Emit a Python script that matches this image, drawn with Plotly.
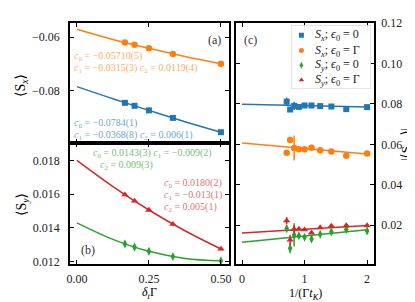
import plotly.graph_objects as go

W, H = 415, 302
def px(x): return x / W
def py(y): return 1 - y / H

BLUE, ORANGE, GREEN, RED = "#1f77b4", "#ff7f0e", "#2ca02c", "#d62728"
BLUE_T, ORANGE_T, GREEN_T, RED_T = ("rgba(31,119,180,0.7)", "rgba(255,127,14,0.7)",
                                    "rgba(44,160,44,0.7)", "rgba(214,39,40,0.7)")
FONT = "Liberation Serif, DejaVu Serif, serif"

# ---- panels (a) and (b): vs delta_t * Gamma ----
dt = [0.1667, 0.2, 0.25, 0.3333, 0.5]
sx_e0 = [-0.0844, -0.0855, -0.0872, -0.0900, -0.0953]
sx_eG = [-0.0620, -0.0629, -0.0642, -0.0663, -0.0699]
sy_e0 = [0.01305, 0.01286, 0.01261, 0.01230, 0.01205]
sy_eG = [0.01597, 0.01560, 0.01506, 0.01422, 0.01275]
sy_e0_err = [0.0001, 0.0001, 0.0001, 0.0001, 0.0001]
sy_eG_err = [0.00008, 0.00008, 0.00008, 0.00008, 0.00008]

fit_dt = [0.0, 0.125, 0.25, 0.375, 0.5]
sx_e0_fit = [-0.0784, -0.0829, -0.0872, -0.0914, -0.0953]
sx_eG_fit = [-0.0571, -0.0609, -0.0642, -0.0672, -0.0699]
sy_e0_fit = [0.0143, 0.01332, 0.01261, 0.01219, 0.01205]
sy_eG_fit = [0.0180, 0.01645, 0.01506, 0.01383, 0.01275]

# ---- panel (c): vs 1/(Gamma t_K) ----
inv_tk = [0.7143, 0.7692, 0.8333, 0.9091, 1.0, 1.1111, 1.25, 1.4286, 1.6667, 2.0]
c_sx_e0 = [0.0811, 0.0772, 0.0790, 0.0785, 0.0792, 0.0792, 0.0789, 0.0787, 0.0774, 0.0784]
c_sx_e0_err = [0.0020, 0.0004, 0.0020, 0.0004, 0.0003, 0.0003, 0.0003, 0.0003, 0.0003, 0.0003]
c_sx_eG = [0.0558, 0.0621, 0.0582, 0.0575, 0.0575, 0.0583, 0.0571, 0.0565, 0.0543, 0.0554]
c_sx_eG_err = [0.0004, 0.0016, 0.0062, 0.0004, 0.0003, 0.0003, 0.0003, 0.0003, 0.0003, 0.0003]
c_sy_e0 = [0.0183, 0.0086, 0.0152, 0.0148, 0.0140, 0.0132, 0.0155, 0.0167, 0.0179, 0.0171]
c_sy_e0_err = [0.0008, 0.0025, 0.0057, 0.0006, 0.0005, 0.0006, 0.0005, 0.0005, 0.0005, 0.0005]
c_sy_eG = [0.0222, 0.0127, 0.0181, 0.0181, 0.0178, 0.0162, 0.0188, 0.0196, 0.0198, 0.0198]
c_sy_eG_err = [0.0018, 0.0025, 0.0020, 0.0004, 0.0004, 0.0005, 0.0004, 0.0004, 0.0004, 0.0004]

fit_tk = [0.0, 2.0]
c_sx_e0_fit = [0.0798, 0.0785]
c_sx_eG_fit = [0.0606, 0.0552]
c_sy_e0_fit = [0.0115, 0.0177]
c_sy_eG_fit = [0.0161, 0.0199]

# ---- legend entries ----
legend_labels = ["<i>S</i><sub><i>x</i></sub>; <i>ϵ</i><sub>0</sub> = 0",
                 "<i>S</i><sub><i>x</i></sub>; <i>ϵ</i><sub>0</sub> = Γ",
                 "<i>S</i><sub><i>y</i></sub>; <i>ϵ</i><sub>0</sub> = 0",
                 "<i>S</i><sub><i>y</i></sub>; <i>ϵ</i><sub>0</sub> = Γ"]
legend_colors = [BLUE, ORANGE, GREEN, RED]
legend_symbols = ["square", "circle", "diamond-tall", "triangle-up"]
legend_rows = [0.84, 0.60, 0.37, 0.14]

fig = go.Figure()

def line(x, y, color, xa, ya, spline=True):
    fig.add_trace(go.Scatter(x=x, y=y, mode="lines", xaxis=xa, yaxis=ya,
                             line=dict(color=color, width=1.5, shape="spline" if spline else "linear"),
                             showlegend=False, hoverinfo="skip"))

def pts(x, y, color, symbol, size, xa, ya, err=None):
    fig.add_trace(go.Scatter(
        x=x, y=y, mode="markers", xaxis=xa, yaxis=ya, showlegend=False,
        marker=dict(color=color, symbol=symbol, size=size, line=dict(width=0)),
        error_y=dict(type="data", array=err, visible=err is not None, width=0,
                     thickness=1.5, color=color)))

# panel (a)
line(fit_dt, sx_eG_fit, ORANGE, "x", "y")
line(fit_dt, sx_e0_fit, BLUE, "x", "y")
pts(dt, sx_eG, ORANGE, "circle", 6.5, "x", "y")
pts(dt, sx_e0, BLUE, "square", 6, "x", "y")
# panel (b)
line(fit_dt, sy_eG_fit, RED, "x2", "y2")
line(fit_dt, sy_e0_fit, GREEN, "x2", "y2")
pts(dt, sy_eG, RED, "triangle-up", 6.5, "x2", "y2", sy_eG_err)
pts(dt, sy_e0, GREEN, "diamond-tall", 6.5, "x2", "y2", sy_e0_err)
# panel (c)
line(fit_tk, c_sx_e0_fit, BLUE, "x3", "y3", False)
line(fit_tk, c_sx_eG_fit, ORANGE, "x3", "y3", False)
line(fit_tk, c_sy_eG_fit, RED, "x3", "y3", False)
line(fit_tk, c_sy_e0_fit, GREEN, "x3", "y3", False)
pts(inv_tk, c_sx_e0, BLUE, "square", 6, "x3", "y3", c_sx_e0_err)
pts(inv_tk, c_sx_eG, ORANGE, "circle", 6.5, "x3", "y3", c_sx_eG_err)
pts(inv_tk, c_sy_e0, GREEN, "diamond-tall", 6.5, "x3", "y3", c_sy_e0_err)
pts(inv_tk, c_sy_eG, RED, "triangle-up", 6.5, "x3", "y3", c_sy_eG_err)

# legend (drawn on its own unit axes placed inside panel c)
fig.add_trace(go.Scatter(x=[0.13] * 4, y=legend_rows, mode="markers", xaxis="x4", yaxis="y4",
                         marker=dict(color=legend_colors, symbol=legend_symbols, size=5,
                                     line=dict(width=0)),
                         showlegend=False, hoverinfo="skip"))
fig.add_shape(type="rect", xref="x4", yref="y4", x0=0, x1=1, y0=0, y1=1, layer="below",
              fillcolor="rgba(255,255,255,0.8)", line=dict(color="#cccccc", width=1))
for lab, yy in zip(legend_labels, legend_rows):
    fig.add_annotation(x=0.27, y=yy, xref="x4", yref="y4", text=lab, showarrow=False,
                       xanchor="left", yanchor="middle",
                       font=dict(family=FONT, size=12, color="#222"))

ax_common = dict(showline=True, linecolor="black", linewidth=1.5, mirror="allticks",
                 ticks="inside", ticklen=4, tickwidth=1, tickcolor="black",
                 showgrid=False, zeroline=False, automargin=False,
                 tickfont=dict(family=FONT, size=12, color="#222"))

xa_dom = [px(62), px(221)]
fig.update_layout(
    width=W, height=H, margin=dict(l=0, r=0, t=0, b=0),
    paper_bgcolor="white", plot_bgcolor="rgba(0,0,0,0)",
    font=dict(family=FONT, size=12, color="black"),
    showlegend=False,
    xaxis=dict(ax_common, domain=xa_dom, range=[-0.024, 0.528], anchor="y",
               tickvals=[0, 0.25, 0.5], showticklabels=False),
    yaxis=dict(ax_common, domain=[py(135), py(15)], range=[-0.0993, -0.0548], anchor="x",
               tickvals=[-0.08, -0.06], tickformat=".2f", ticklabelstandoff=6),
    xaxis2=dict(ax_common, domain=xa_dom, range=[-0.024, 0.528], anchor="y2",
                tickvals=[0, 0.25, 0.5], ticktext=["0.00", "0.25", "0.50"], ticklabelstandoff=3),
    yaxis2=dict(ax_common, domain=[py(256), py(135)], range=[0.01186, 0.01903], anchor="x2",
                tickvals=[0.012, 0.014, 0.016, 0.018], tickformat=".3f", ticklabelstandoff=6),
    xaxis3=dict(ax_common, domain=[px(228), px(366)], range=[-0.096, 2.11], anchor="y3",
                tickvals=[0, 1, 2], ticklabelstandoff=3),
    yaxis3=dict(ax_common, domain=[py(256), py(15)], range=[0.0008, 0.12], anchor="x3",
                side="right", tickvals=[0.02, 0.04, 0.06, 0.08, 0.10, 0.12],
                tickformat=".2f", ticklabelstandoff=3),
    xaxis4=dict(domain=[px(283), px(363)], range=[0, 1], anchor="y4", visible=False,
                fixedrange=True),
    yaxis4=dict(domain=[py(81), py(17)], range=[0, 1], anchor="x4", visible=False,
                fixedrange=True),
)

def ann(x, y, text, color="black", size=10, xanchor="left", angle=0):
    fig.add_annotation(x=px(x), y=py(y), xref="paper", yref="paper", text=text,
                       showarrow=False, xanchor=xanchor, yanchor="middle", textangle=angle,
                       font=dict(family=FONT, size=size, color=color))

c0 = "<i>c</i><sub>0</sub>"
c1 = "<i>c</i><sub>1</sub>"
c2 = "<i>c</i><sub>2</sub>"
ann(64, 48, f"{c0} = −0.05710(5)", ORANGE_T)
ann(64, 60, f"{c1} = −0.0315(3) {c2} = 0.0119(4)", ORANGE_T)
ann(64, 115, f"{c0} = −0.0784(1)", BLUE_T)
ann(64, 127, f"{c1} = −0.0368(8) {c2} = 0.006(1)", BLUE_T)
ann(83, 145, f"{c0} = 0.0143(3) {c1} = −0.009(2)", GREEN_T)
ann(90, 157, f"{c2} = 0.009(3)", GREEN_T)
ann(154, 175, f"{c0} = 0.0180(2)", RED_T)
ann(154, 187, f"{c1} = −0.013(1)", RED_T)
ann(154, 199, f"{c2} = 0.005(1)", RED_T)
ann(206, 32, "(a)", color="#333", size=12, xanchor="center")
ann(80, 242, "(b)", color="#333", size=12, xanchor="center")
ann(242, 32, "(c)", color="#333", size=12, xanchor="center")
ann(13, 78, "⟨S<sub><i>x</i></sub>⟩", size=14, xanchor="center", angle=-90)
ann(14, 197, "⟨S<sub><i>y</i></sub>⟩", size=14, xanchor="center", angle=-90)
ann(398, 137, "|⟨S<sub><i>x</i>/<i>y</i></sub>⟩|", size=13, xanchor="center", angle=-90)
ann(141, 285, "<i>δ<sub>t</sub></i>Γ", size=12, xanchor="center")
ann(297, 286, "1/(Γ<i>t</i><sub><i>K</i></sub>)", size=12, xanchor="center")

fig.write_html("out.html")
